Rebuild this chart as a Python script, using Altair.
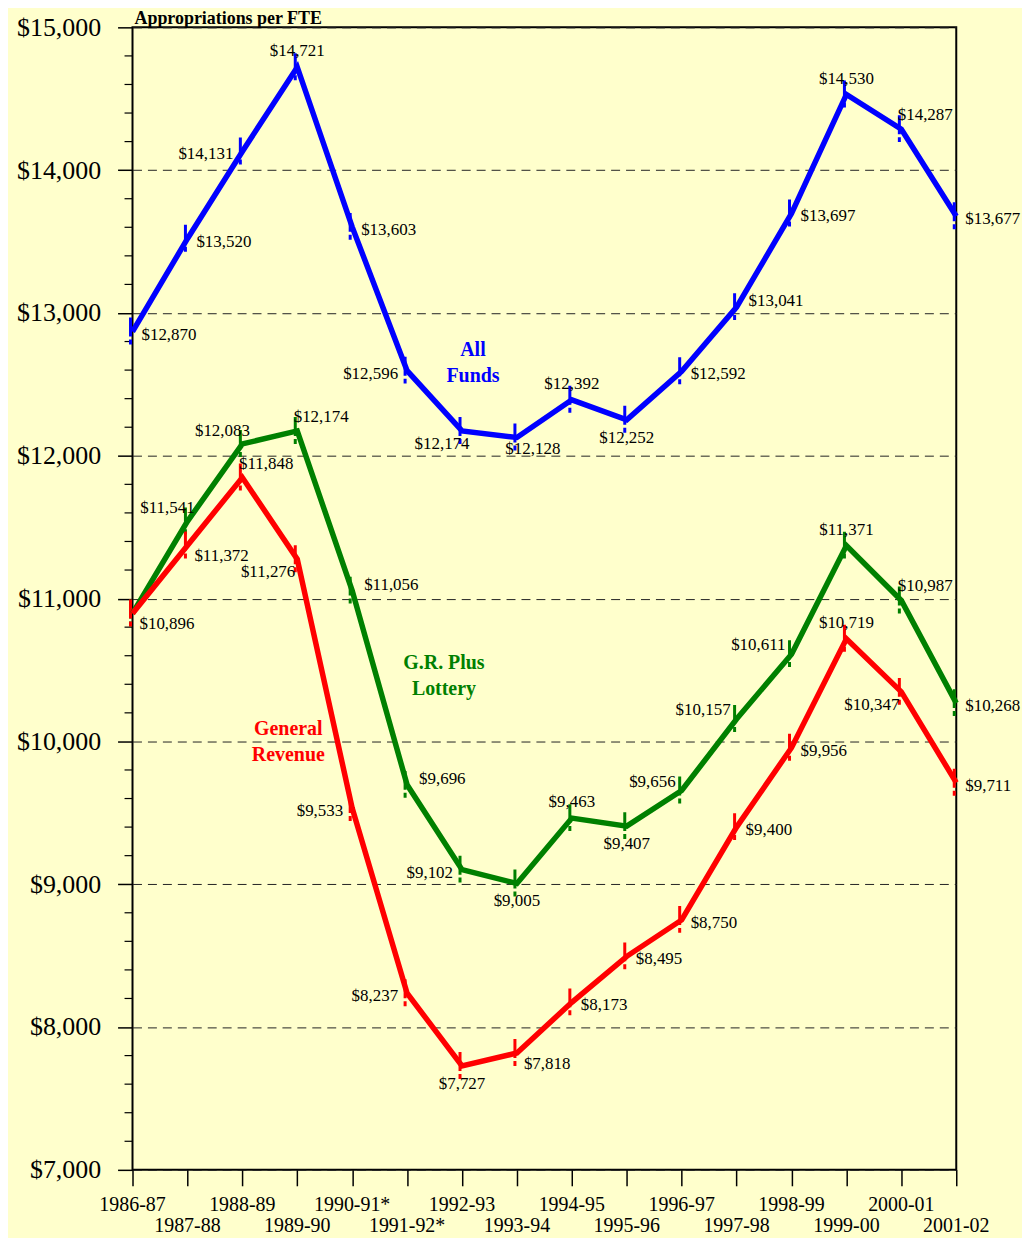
import altair as alt
import pandas as pd

years = ["1986-87", "1987-88", "1988-89", "1989-90", "1990-91*", "1991-92*", "1992-93", "1993-94",
         "1994-95", "1995-96", "1996-97", "1997-98", "1998-99", "1999-00", "2000-01", "2001-02"]
all_funds = [12870, 13520, 14131, 14721, 13603, 12596, 12174, 12128, 12392, 12252, 12592, 13041, 13697, 14530, 14287, 13677]
gr_lottery = [10896, 11541, 12083, 12174, 11056, 9696, 9102, 9005, 9463, 9407, 9656, 10157, 10611, 11371, 10987, 10268]
gen_rev = [10896, 11372, 11848, 11276, 9533, 8237, 7727, 7818, 8173, 8495, 8750, 9400, 9956, 10719, 10347, 9711]
series_names = ["All Funds", "G.R. Plus Lottery", "General Revenue"]
series_colors = ["#0000FF", "#008000", "#FF0000"]
# where each value label sits relative to its point ("" = no label)
all_funds_side = ["r", "r", "l", "a", "r", "l", "bl", "br", "a", "b", "r", "rh", "r", "a", "ar", "r"]
gr_lottery_side = ["", "al", "al", "ar", "rh", "rh", "l", "b", "a", "b", "la", "la", "la", "a", "ar", "r"]
gen_rev_side = ["rb", "rb", "ar", "lb", "l", "l", "b", "rb", "r", "r", "r", "r", "r", "a", "lb", "r"]
y_ticks = [7000, 8000, 9000, 10000, 11000, 12000, 13000, 14000, 15000]
y_minor = [v for v in range(7000, 15001, 200) if v % 1000 != 0]
title_text = "Appropriations per FTE"

SERIF = "Liberation Serif"
W, H = 827, 1147
YMIN, YMAX = 7000, 15000
UNIT = (YMAX - YMIN) / H  # data units per pixel

rows = []
for name, vals, sides in zip(series_names, [all_funds, gr_lottery, gen_rev],
                             [all_funds_side, gr_lottery_side, gen_rev_side]):
    for i, (y, v, s) in enumerate(zip(years, vals, sides)):
        rows.append({"series": name, "year": y, "i": i, "value": v, "side": s,
                     "label": "${:,}".format(v)})
df = pd.DataFrame(rows)
df_years = pd.DataFrame({"year": years, "i": list(range(len(years)))})
df_minor = pd.DataFrame({"v": y_minor})

xscale = alt.Scale(type="point", padding=0)
yscale = alt.Scale(domain=[YMIN, YMAX], nice=False, zero=False)
xaxis = alt.Axis(title=None, labels=False, ticks=True, tickSize=16, tickColor="black",
                 tickWidth=1.5, domain=False, grid=False)
yaxis = alt.Axis(title=None, values=y_ticks, format="$,.0f", labelFont=SERIF, labelFontSize=26,
                 labelColor="black", labelPadding=17, tickSize=15, tickColor="black", tickWidth=1.5,
                 domain=False, grid=True, gridColor="#222222", gridDash=[9, 6], gridWidth=1)


def X():
    return alt.X("year:O", sort=years, scale=xscale, axis=xaxis)


def Y(field="value"):
    return alt.Y(field + ":Q", scale=yscale, axis=yaxis)


color = alt.Color("series:N", scale=alt.Scale(domain=series_names, range=series_colors), legend=None)

base = alt.Chart(df)

minor = alt.Chart(df_minor).mark_rule(color="black", strokeWidth=1.2).encode(
    y=alt.Y("v:Q", scale=yscale, axis=yaxis), x=alt.value(-8), x2=alt.value(0))

markers = base.transform_calculate(
    top="datum.value + 14 * %f" % UNIT, bottom="datum.value - 13 * %f" % UNIT
).mark_rule(strokeWidth=3, strokeDash=[19, 3, 5, 40], xOffset=-2).encode(
    x=X(), y=Y("top"), y2="bottom:Q", color=color)

lines = base.mark_line(strokeWidth=5.5).encode(x=X(), y=Y(), color=color, order="i:Q")

placements = {
    "r": ("left", 9, 3), "rh": ("left", 12, -6), "rb": ("left", 7, 11),
    "l": ("right", -9, 3), "la": ("right", -6, -9), "lb": ("right", -2, 13),
    "a": ("center", 0, -16), "b": ("center", 0, 18),
    "al": ("center", -20, -13), "ar": ("center", 24, -14),
    "bl": ("center", -20, 13), "br": ("center", 16, 12),
}
label_layers = []
for code, (al, dx, dy) in placements.items():
    label_layers.append(
        base.transform_filter(alt.datum.side == code).mark_text(
            align=al, dx=dx, dy=dy, baseline="middle", font=SERIF, fontSize=17, color="black"
        ).encode(x=X(), y=Y(), text="label:N"))

# series name annotations anchored to a point of each series (first line position)
names = [
    ("All Funds", 6, "All\nFunds", 11, -81),
    ("G.R. Plus Lottery", 5, "G.R. Plus\nLottery", 37, -122),
    ("General Revenue", 3, "General\nRevenue", -9, 171),
]
name_layers = []
for (sname, idx, txt, dx, dy), col in zip(names, series_colors):
    name_layers.append(
        base.transform_filter((alt.datum.series == sname) & (alt.datum.i == idx)).mark_text(
            align="center", baseline="middle", dx=dx, dy=dy, font=SERIF, fontSize=20,
            fontWeight="bold", color=col, lineBreak="\n", lineHeight=26
        ).encode(x=X(), y=Y(), text=alt.value(txt)))

title = alt.Chart(df_years).transform_filter(alt.datum.i == 0).transform_calculate(
    top=str(YMAX)).mark_text(
    align="left", baseline="middle", dx=2, dy=-8, font=SERIF, fontSize=18, fontWeight="bold",
    color="black").encode(x=X(), y=Y("top"), text=alt.value(title_text))

xlab_even = alt.Chart(df_years).transform_filter("datum.i % 2 == 0").transform_calculate(
    bot=str(YMIN)).mark_text(
    align="center", baseline="middle", dy=35, font=SERIF, fontSize=20, color="black"
).encode(x=X(), y=Y("bot"), text="year:N")
xlab_odd = alt.Chart(df_years).transform_filter("datum.i % 2 == 1").transform_calculate(
    bot=str(YMIN)).mark_text(
    align="center", baseline="middle", dy=56, font=SERIF, fontSize=20, color="black"
).encode(x=X(), y=Y("bot"), text="year:N")

chart = alt.layer(
    minor, markers, lines, *label_layers, *name_layers, title, xlab_even, xlab_odd
).properties(
    width=W, height=H,
    autosize=alt.AutoSizeParams(type="none"),
    padding={"left": 125, "top": 17, "right": 66, "bottom": 66},
    background="#FFFFCC",
).configure_view(stroke="black", strokeWidth=2)

chart.save("out.html", embed_options={"renderer": "svg", "actions": False})
